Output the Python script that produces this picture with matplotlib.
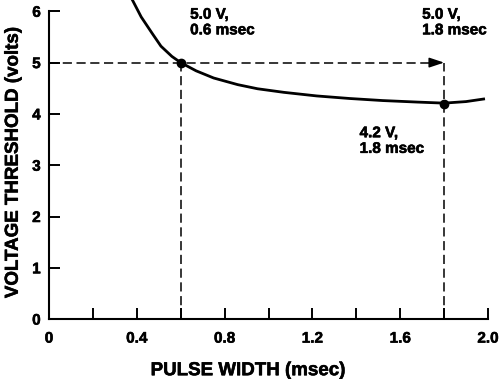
import matplotlib
matplotlib.use("Agg")
import matplotlib.pyplot as plt
import matplotlib.patheffects as pe

plt.rcParams['font.family'] = ['Liberation Sans', 'DejaVu Sans']
plt.rcParams['font.weight'] = 'bold'

# curve
pulse_width = [0.38, 0.42, 0.47, 0.51, 0.56, 0.60, 0.67, 0.75, 0.86, 0.95,
               1.07, 1.22, 1.37, 1.52, 1.68, 1.80, 1.90, 1.98]
voltage = [6.22, 5.89, 5.57, 5.32, 5.12, 5.00, 4.84, 4.70, 4.57, 4.49,
           4.42, 4.35, 4.30, 4.26, 4.23, 4.21, 4.24, 4.29]

# marked points
point_x = [0.6, 1.8]
point_y = [5.0, 4.2]
ref_volt = 5.0

x_minor = [0.2, 0.6, 1.0, 1.4, 1.8]
x_major = [0, 0.4, 0.8, 1.2, 1.6, 2.0]
x_labels = ['0', '0.4', '0.8', '1.2', '1.6', '2.0']
y_ticks = [0, 1, 2, 3, 4, 5, 6]

ink = [pe.withStroke(linewidth=0.4, foreground='black')]

fig = plt.figure(figsize=(5, 3.79), dpi=100)
ax = fig.add_axes([0.098, 0.158, 0.878, 0.842])
ax.set_xlim(0, 2.0)
ax.set_ylim(0, 6.22)

for s in ['top', 'right']:
    ax.spines[s].set_visible(False)
ax.spines['left'].set_bounds(0, 6)
ax.spines['left'].set_linewidth(1.5)
ax.spines['bottom'].set_linewidth(1.5)

# ticks point inwards, labels only every 0.4
ax.set_xticks(x_minor, minor=True)
ax.set_xticks(x_major)
ax.set_xticklabels(x_labels)
ax.set_yticks(y_ticks)
ax.tick_params(axis='both', which='both', direction='in', length=8, width=1.4,
               labelsize=11)
ax.tick_params(axis='x', which='both', pad=9)
ax.tick_params(axis='y', pad=6)
for lab in ax.get_xticklabels() + ax.get_yticklabels():
    lab.set_fontweight('bold')
    lab.set_path_effects(ink)

# dashed reference lines
dash = dict(color='black', lw=1.1, linestyle=(0, (6, 3)))
ax.plot([0, point_x[1] - 0.05], [ref_volt, ref_volt], **dash)
ax.plot([point_x[0], point_x[0]], [0, ref_volt], **dash)
ax.plot([point_x[1], point_x[1]], [0, ref_volt], **dash)
ax.annotate('', xy=(point_x[1], ref_volt), xytext=(point_x[1] - 0.06, ref_volt),
            arrowprops=dict(arrowstyle='-|>,head_length=0.9,head_width=0.3',
                            color='black', lw=1.1, shrinkA=0, shrinkB=0))

# curve and points
ax.plot(pulse_width, voltage, color='black', lw=2.0, clip_on=False,
        solid_joinstyle='round')
ax.plot(point_x, point_y, 'o', color='black', markersize=6)

tk = dict(fontsize=11, fontweight='bold', va='top', ha='left',
          linespacing=1.15, path_effects=ink)
ax.text(0.643, 6.07, '5.0 V,\n0.6 msec', **tk)
ax.text(1.70, 6.07, '5.0 V,\n1.8 msec', **tk)
ax.text(1.415, 3.76, '4.2 V,\n1.8 msec', **tk)

ax.set_xlabel('PULSE WIDTH (msec)', fontsize=13.5, fontweight='bold',
              path_effects=ink)
ax.xaxis.set_label_coords(0.453, -0.135)
ax.set_ylabel('VOLTAGE THRESHOLD (volts)', fontsize=13.5, fontweight='bold',
              path_effects=ink)
ax.yaxis.set_label_coords(-0.062, 0.49)

fig.savefig('out.png', dpi=100)
